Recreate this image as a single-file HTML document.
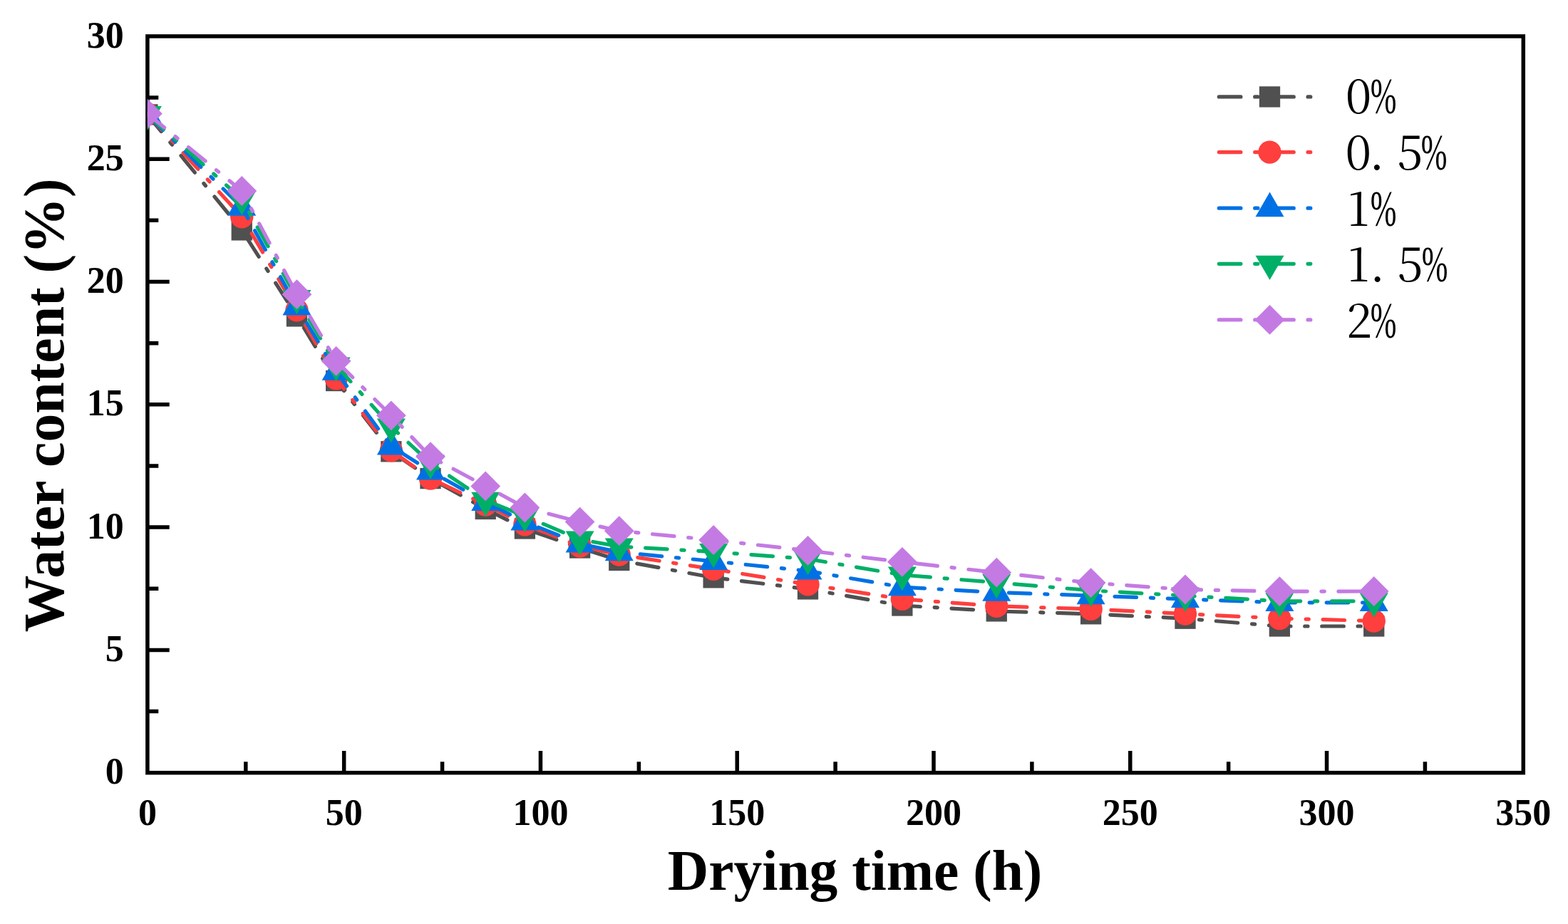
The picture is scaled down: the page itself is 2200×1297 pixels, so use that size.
<!DOCTYPE html>
<html><head><meta charset="utf-8"><title>Water content vs drying time</title>
<style>
html,body{margin:0;padding:0;background:#fff;}
svg{display:block;}
.tk{font-family:"Liberation Serif","Times New Roman",serif;font-weight:bold;font-size:52px;fill:#000;}
.ttl{font-family:"Liberation Serif","Times New Roman",serif;font-weight:bold;font-size:79.5px;fill:#000;}
.lgc{font-family:"Noto Serif CJK SC","Liberation Serif",serif;font-size:65px;fill:#000;}
.lgp{font-family:"Liberation Serif","Noto Serif CJK SC",serif;font-size:72.4px;}
</style></head><body>
<svg width="2200" height="1297" viewBox="0 0 2200 1297">
<rect width="2200" height="1297" fill="#fff"/>
<defs><clipPath id="pc"><rect x="206.9" y="50.9" width="1930.40" height="1033.80"/></clipPath></defs>

<rect x="206.9" y="50.9" width="1930.40" height="1033.80" fill="none" stroke="#000" stroke-width="5.5" stroke-linejoin="miter"/>
<path d="M206.90,912.40H237.70M206.90,740.10H237.70M206.90,567.80H237.70M206.90,395.50H237.70M206.90,223.20H237.70M206.90,998.55H222.30M206.90,826.25H222.30M206.90,653.95H222.30M206.90,481.65H222.30M206.90,309.35H222.30M206.90,137.05H222.30M482.67,1084.70V1053.90M758.44,1084.70V1053.90M1034.21,1084.70V1053.90M1309.99,1084.70V1053.90M1585.76,1084.70V1053.90M1861.53,1084.70V1053.90M344.79,1084.70V1069.30M620.56,1084.70V1069.30M896.33,1084.70V1069.30M1172.10,1084.70V1069.30M1447.87,1084.70V1069.30M1723.64,1084.70V1069.30M1999.41,1084.70V1069.30" stroke="#000" stroke-width="5.5" fill="none"/>
<text class="tk" x="173.8" y="1100.30" text-anchor="end">0</text>
<text class="tk" x="173.8" y="928.00" text-anchor="end">5</text>
<text class="tk" x="173.8" y="755.70" text-anchor="end">10</text>
<text class="tk" x="173.8" y="583.40" text-anchor="end">15</text>
<text class="tk" x="173.8" y="411.10" text-anchor="end">20</text>
<text class="tk" x="173.8" y="238.80" text-anchor="end">25</text>
<text class="tk" x="173.8" y="66.50" text-anchor="end">30</text>
<text class="tk" x="206.90" y="1158.3" text-anchor="middle">0</text>
<text class="tk" x="482.67" y="1158.3" text-anchor="middle">50</text>
<text class="tk" x="758.44" y="1158.3" text-anchor="middle">100</text>
<text class="tk" x="1034.21" y="1158.3" text-anchor="middle">150</text>
<text class="tk" x="1309.99" y="1158.3" text-anchor="middle">200</text>
<text class="tk" x="1585.76" y="1158.3" text-anchor="middle">250</text>
<text class="tk" x="1861.53" y="1158.3" text-anchor="middle">300</text>
<text class="tk" x="2137.30" y="1158.3" text-anchor="middle">350</text>
<text class="ttl" x="1199.6" y="1248.7" text-anchor="middle">Drying time (h)</text>
<text class="ttl" style="font-size:79.8px" transform="translate(89.4,568.8) rotate(-90)" x="0" y="0" text-anchor="middle">Water content (%)</text>
<g clip-path="url(#pc)">
<path d="M206.90,160.90 L339.27,322.90 L416.49,443.90 L471.64,534.50 L548.86,633.80 L604.01,671.60 L681.23,714.50 L736.38,742.00 L813.60,769.00 L868.75,786.50 L1001.12,810.80 L1133.49,826.90 L1265.86,850.00 L1398.23,857.90 L1530.60,861.80 L1662.97,868.20 L1795.34,879.00 L1927.71,879.00" fill="none" stroke="#505050" stroke-width="5.2" stroke-linecap="round" stroke-linejoin="round" stroke-dasharray="30.6 19.8 4.2 19.75" stroke-dashoffset="0"/>
<rect x="192.25" y="146.25" width="29.3" height="29.3" fill="#505050"/>
<rect x="324.62" y="308.25" width="29.3" height="29.3" fill="#505050"/>
<rect x="401.84" y="429.25" width="29.3" height="29.3" fill="#505050"/>
<rect x="456.99" y="519.85" width="29.3" height="29.3" fill="#505050"/>
<rect x="534.21" y="619.15" width="29.3" height="29.3" fill="#505050"/>
<rect x="589.36" y="656.95" width="29.3" height="29.3" fill="#505050"/>
<rect x="666.58" y="699.85" width="29.3" height="29.3" fill="#505050"/>
<rect x="721.73" y="727.35" width="29.3" height="29.3" fill="#505050"/>
<rect x="798.95" y="754.35" width="29.3" height="29.3" fill="#505050"/>
<rect x="854.10" y="771.85" width="29.3" height="29.3" fill="#505050"/>
<rect x="986.47" y="796.15" width="29.3" height="29.3" fill="#505050"/>
<rect x="1118.84" y="812.25" width="29.3" height="29.3" fill="#505050"/>
<rect x="1251.21" y="835.35" width="29.3" height="29.3" fill="#505050"/>
<rect x="1383.58" y="843.25" width="29.3" height="29.3" fill="#505050"/>
<rect x="1515.95" y="847.15" width="29.3" height="29.3" fill="#505050"/>
<rect x="1648.32" y="853.55" width="29.3" height="29.3" fill="#505050"/>
<rect x="1780.69" y="864.35" width="29.3" height="29.3" fill="#505050"/>
<rect x="1913.06" y="864.35" width="29.3" height="29.3" fill="#505050"/>
<path d="M206.90,160.00 L339.27,304.20 L416.49,435.40 L471.64,531.20 L548.86,632.40 L604.01,671.50 L681.23,708.50 L736.38,736.30 L813.60,766.50 L868.75,778.60 L1001.12,798.90 L1133.49,820.40 L1265.86,840.90 L1398.23,850.80 L1530.60,854.90 L1662.97,861.60 L1795.34,868.10 L1927.71,871.60" fill="none" stroke="#ff3e3e" stroke-width="5.2" stroke-linecap="round" stroke-linejoin="round" stroke-dasharray="30.6 19.8 4.2 19.75" stroke-dashoffset="0"/>
<circle cx="206.90" cy="160.00" r="16.2" fill="#ff3e3e"/>
<circle cx="339.27" cy="304.20" r="16.2" fill="#ff3e3e"/>
<circle cx="416.49" cy="435.40" r="16.2" fill="#ff3e3e"/>
<circle cx="471.64" cy="531.20" r="16.2" fill="#ff3e3e"/>
<circle cx="548.86" cy="632.40" r="16.2" fill="#ff3e3e"/>
<circle cx="604.01" cy="671.50" r="16.2" fill="#ff3e3e"/>
<circle cx="681.23" cy="708.50" r="16.2" fill="#ff3e3e"/>
<circle cx="736.38" cy="736.30" r="16.2" fill="#ff3e3e"/>
<circle cx="813.60" cy="766.50" r="16.2" fill="#ff3e3e"/>
<circle cx="868.75" cy="778.60" r="16.2" fill="#ff3e3e"/>
<circle cx="1001.12" cy="798.90" r="16.2" fill="#ff3e3e"/>
<circle cx="1133.49" cy="820.40" r="16.2" fill="#ff3e3e"/>
<circle cx="1265.86" cy="840.90" r="16.2" fill="#ff3e3e"/>
<circle cx="1398.23" cy="850.80" r="16.2" fill="#ff3e3e"/>
<circle cx="1530.60" cy="854.90" r="16.2" fill="#ff3e3e"/>
<circle cx="1662.97" cy="861.60" r="16.2" fill="#ff3e3e"/>
<circle cx="1795.34" cy="868.10" r="16.2" fill="#ff3e3e"/>
<circle cx="1927.71" cy="871.60" r="16.2" fill="#ff3e3e"/>
<path d="M206.90,160.90 L339.27,290.70 L416.49,430.30 L471.64,521.70 L548.86,626.50 L604.01,661.40 L681.23,704.90 L736.38,732.50 L813.60,763.30 L868.75,775.10 L1001.12,787.80 L1133.49,801.50 L1265.86,824.10 L1398.23,831.60 L1530.60,836.10 L1662.97,841.00 L1795.34,845.80 L1927.71,845.80" fill="none" stroke="#0071e4" stroke-width="5.2" stroke-linecap="round" stroke-linejoin="round" stroke-dasharray="30.6 19.8 4.2 19.75" stroke-dashoffset="0"/>
<polygon points="206.90,138.30 226.90,173.00 186.90,173.00" fill="#0071e4"/>
<polygon points="339.27,268.10 359.27,302.80 319.27,302.80" fill="#0071e4"/>
<polygon points="416.49,407.70 436.49,442.40 396.49,442.40" fill="#0071e4"/>
<polygon points="471.64,499.10 491.64,533.80 451.64,533.80" fill="#0071e4"/>
<polygon points="548.86,603.90 568.86,638.60 528.86,638.60" fill="#0071e4"/>
<polygon points="604.01,638.80 624.01,673.50 584.01,673.50" fill="#0071e4"/>
<polygon points="681.23,682.30 701.23,717.00 661.23,717.00" fill="#0071e4"/>
<polygon points="736.38,709.90 756.38,744.60 716.38,744.60" fill="#0071e4"/>
<polygon points="813.60,740.70 833.60,775.40 793.60,775.40" fill="#0071e4"/>
<polygon points="868.75,752.50 888.75,787.20 848.75,787.20" fill="#0071e4"/>
<polygon points="1001.12,765.20 1021.12,799.90 981.12,799.90" fill="#0071e4"/>
<polygon points="1133.49,778.90 1153.49,813.60 1113.49,813.60" fill="#0071e4"/>
<polygon points="1265.86,801.50 1285.86,836.20 1245.86,836.20" fill="#0071e4"/>
<polygon points="1398.23,809.00 1418.23,843.70 1378.23,843.70" fill="#0071e4"/>
<polygon points="1530.60,813.50 1550.60,848.20 1510.60,848.20" fill="#0071e4"/>
<polygon points="1662.97,818.40 1682.97,853.10 1642.97,853.10" fill="#0071e4"/>
<polygon points="1795.34,823.20 1815.34,857.90 1775.34,857.90" fill="#0071e4"/>
<polygon points="1927.71,823.20 1947.71,857.90 1907.71,857.90" fill="#0071e4"/>
<path d="M206.90,160.60 L339.27,279.50 L416.49,418.50 L471.64,513.00 L548.86,599.00 L604.01,650.10 L681.23,702.30 L736.38,724.40 L813.60,757.20 L868.75,767.10 L1001.12,774.60 L1133.49,784.60 L1265.86,807.00 L1398.23,817.70 L1530.60,828.80 L1662.97,836.20 L1795.34,843.80 L1927.71,843.80" fill="none" stroke="#00af67" stroke-width="5.2" stroke-linecap="round" stroke-linejoin="round" stroke-dasharray="30.6 19.8 4.2 19.75" stroke-dashoffset="0"/>
<polygon points="186.90,149.00 226.90,149.00 206.90,183.20" fill="#00af67"/>
<polygon points="319.27,267.90 359.27,267.90 339.27,302.10" fill="#00af67"/>
<polygon points="396.49,406.90 436.49,406.90 416.49,441.10" fill="#00af67"/>
<polygon points="451.64,501.40 491.64,501.40 471.64,535.60" fill="#00af67"/>
<polygon points="528.86,587.40 568.86,587.40 548.86,621.60" fill="#00af67"/>
<polygon points="584.01,638.50 624.01,638.50 604.01,672.70" fill="#00af67"/>
<polygon points="661.23,690.70 701.23,690.70 681.23,724.90" fill="#00af67"/>
<polygon points="716.38,712.80 756.38,712.80 736.38,747.00" fill="#00af67"/>
<polygon points="793.60,745.60 833.60,745.60 813.60,779.80" fill="#00af67"/>
<polygon points="848.75,755.50 888.75,755.50 868.75,789.70" fill="#00af67"/>
<polygon points="981.12,763.00 1021.12,763.00 1001.12,797.20" fill="#00af67"/>
<polygon points="1113.49,773.00 1153.49,773.00 1133.49,807.20" fill="#00af67"/>
<polygon points="1245.86,795.40 1285.86,795.40 1265.86,829.60" fill="#00af67"/>
<polygon points="1378.23,806.10 1418.23,806.10 1398.23,840.30" fill="#00af67"/>
<polygon points="1510.60,817.20 1550.60,817.20 1530.60,851.40" fill="#00af67"/>
<polygon points="1642.97,824.60 1682.97,824.60 1662.97,858.80" fill="#00af67"/>
<polygon points="1775.34,832.20 1815.34,832.20 1795.34,866.40" fill="#00af67"/>
<polygon points="1907.71,832.20 1947.71,832.20 1927.71,866.40" fill="#00af67"/>
<path d="M206.90,159.60 L339.27,268.00 L416.49,413.20 L471.64,506.80 L548.86,583.30 L604.01,641.10 L681.23,682.40 L736.38,712.50 L813.60,732.60 L868.75,745.20 L1001.12,758.00 L1133.49,772.90 L1265.86,788.80 L1398.23,803.70 L1530.60,818.10 L1662.97,827.50 L1795.34,830.10 L1927.71,830.00" fill="none" stroke="#c47ae3" stroke-width="5.2" stroke-linecap="round" stroke-linejoin="round" stroke-dasharray="30.6 19.8 4.2 19.75" stroke-dashoffset="0"/>
<polygon points="206.90,138.70 227.80,159.60 206.90,180.50 186.00,159.60" fill="#c47ae3"/>
<polygon points="339.27,247.10 360.17,268.00 339.27,288.90 318.37,268.00" fill="#c47ae3"/>
<polygon points="416.49,392.30 437.39,413.20 416.49,434.10 395.59,413.20" fill="#c47ae3"/>
<polygon points="471.64,485.90 492.54,506.80 471.64,527.70 450.74,506.80" fill="#c47ae3"/>
<polygon points="548.86,562.40 569.76,583.30 548.86,604.20 527.96,583.30" fill="#c47ae3"/>
<polygon points="604.01,620.20 624.91,641.10 604.01,662.00 583.11,641.10" fill="#c47ae3"/>
<polygon points="681.23,661.50 702.13,682.40 681.23,703.30 660.33,682.40" fill="#c47ae3"/>
<polygon points="736.38,691.60 757.28,712.50 736.38,733.40 715.48,712.50" fill="#c47ae3"/>
<polygon points="813.60,711.70 834.50,732.60 813.60,753.50 792.70,732.60" fill="#c47ae3"/>
<polygon points="868.75,724.30 889.65,745.20 868.75,766.10 847.85,745.20" fill="#c47ae3"/>
<polygon points="1001.12,737.10 1022.02,758.00 1001.12,778.90 980.22,758.00" fill="#c47ae3"/>
<polygon points="1133.49,752.00 1154.39,772.90 1133.49,793.80 1112.59,772.90" fill="#c47ae3"/>
<polygon points="1265.86,767.90 1286.76,788.80 1265.86,809.70 1244.96,788.80" fill="#c47ae3"/>
<polygon points="1398.23,782.80 1419.13,803.70 1398.23,824.60 1377.33,803.70" fill="#c47ae3"/>
<polygon points="1530.60,797.20 1551.50,818.10 1530.60,839.00 1509.70,818.10" fill="#c47ae3"/>
<polygon points="1662.97,806.60 1683.87,827.50 1662.97,848.40 1642.07,827.50" fill="#c47ae3"/>
<polygon points="1795.34,809.20 1816.24,830.10 1795.34,851.00 1774.44,830.10" fill="#c47ae3"/>
<polygon points="1927.71,809.10 1948.61,830.00 1927.71,850.90 1906.81,830.00" fill="#c47ae3"/>
</g>
<path d="M1710.3,135.90H1838.8" fill="none" stroke="#505050" stroke-width="5.2" stroke-linecap="round" stroke-dasharray="30.6 19.8 4.2 19.75"/>
<rect x="1766.85" y="121.25" width="29.3" height="29.3" fill="#505050"/>
<path d="M1710.3,213.60H1838.8" fill="none" stroke="#ff3e3e" stroke-width="5.2" stroke-linecap="round" stroke-dasharray="30.6 19.8 4.2 19.75"/>
<circle cx="1781.50" cy="213.60" r="16.2" fill="#ff3e3e"/>
<path d="M1710.3,292.20H1838.8" fill="none" stroke="#0071e4" stroke-width="5.2" stroke-linecap="round" stroke-dasharray="30.6 19.8 4.2 19.75"/>
<polygon points="1781.50,269.60 1801.50,304.30 1761.50,304.30" fill="#0071e4"/>
<path d="M1710.3,370.30H1838.8" fill="none" stroke="#00af67" stroke-width="5.2" stroke-linecap="round" stroke-dasharray="30.6 19.8 4.2 19.75"/>
<polygon points="1761.50,358.70 1801.50,358.70 1781.50,392.90" fill="#00af67"/>
<path d="M1710.3,448.90H1838.8" fill="none" stroke="#c47ae3" stroke-width="5.2" stroke-linecap="round" stroke-dasharray="30.6 19.8 4.2 19.75"/>
<polygon points="1781.50,428.00 1802.40,448.90 1781.50,469.80 1760.60,448.90" fill="#c47ae3"/>
<text class="lgc" y="159.30"><tspan x="1888.05">0</tspan><tspan class="lgp" x="1922.67" textLength="36.7" lengthAdjust="spacingAndGlyphs">%</tspan></text>
<text class="lgc" y="238.00"><tspan x="1887.85">0</tspan><tspan x="1921.29">.</tspan><tspan x="1960.25">5</tspan><tspan class="lgp" x="1993.77" textLength="36.7" lengthAdjust="spacingAndGlyphs">%</tspan></text>
<text class="lgc" y="316.70"><tspan x="1890.52">1</tspan><tspan class="lgp" x="1922.67" textLength="36.7" lengthAdjust="spacingAndGlyphs">%</tspan></text>
<text class="lgc" y="395.40"><tspan x="1890.52">1</tspan><tspan x="1921.89">.</tspan><tspan x="1960.45">5</tspan><tspan class="lgp" x="1994.67" textLength="36.7" lengthAdjust="spacingAndGlyphs">%</tspan></text>
<text class="lgc" y="474.10"><tspan x="1888.85">2</tspan><tspan class="lgp" x="1922.67" textLength="36.7" lengthAdjust="spacingAndGlyphs">%</tspan></text>
</svg></body></html>
